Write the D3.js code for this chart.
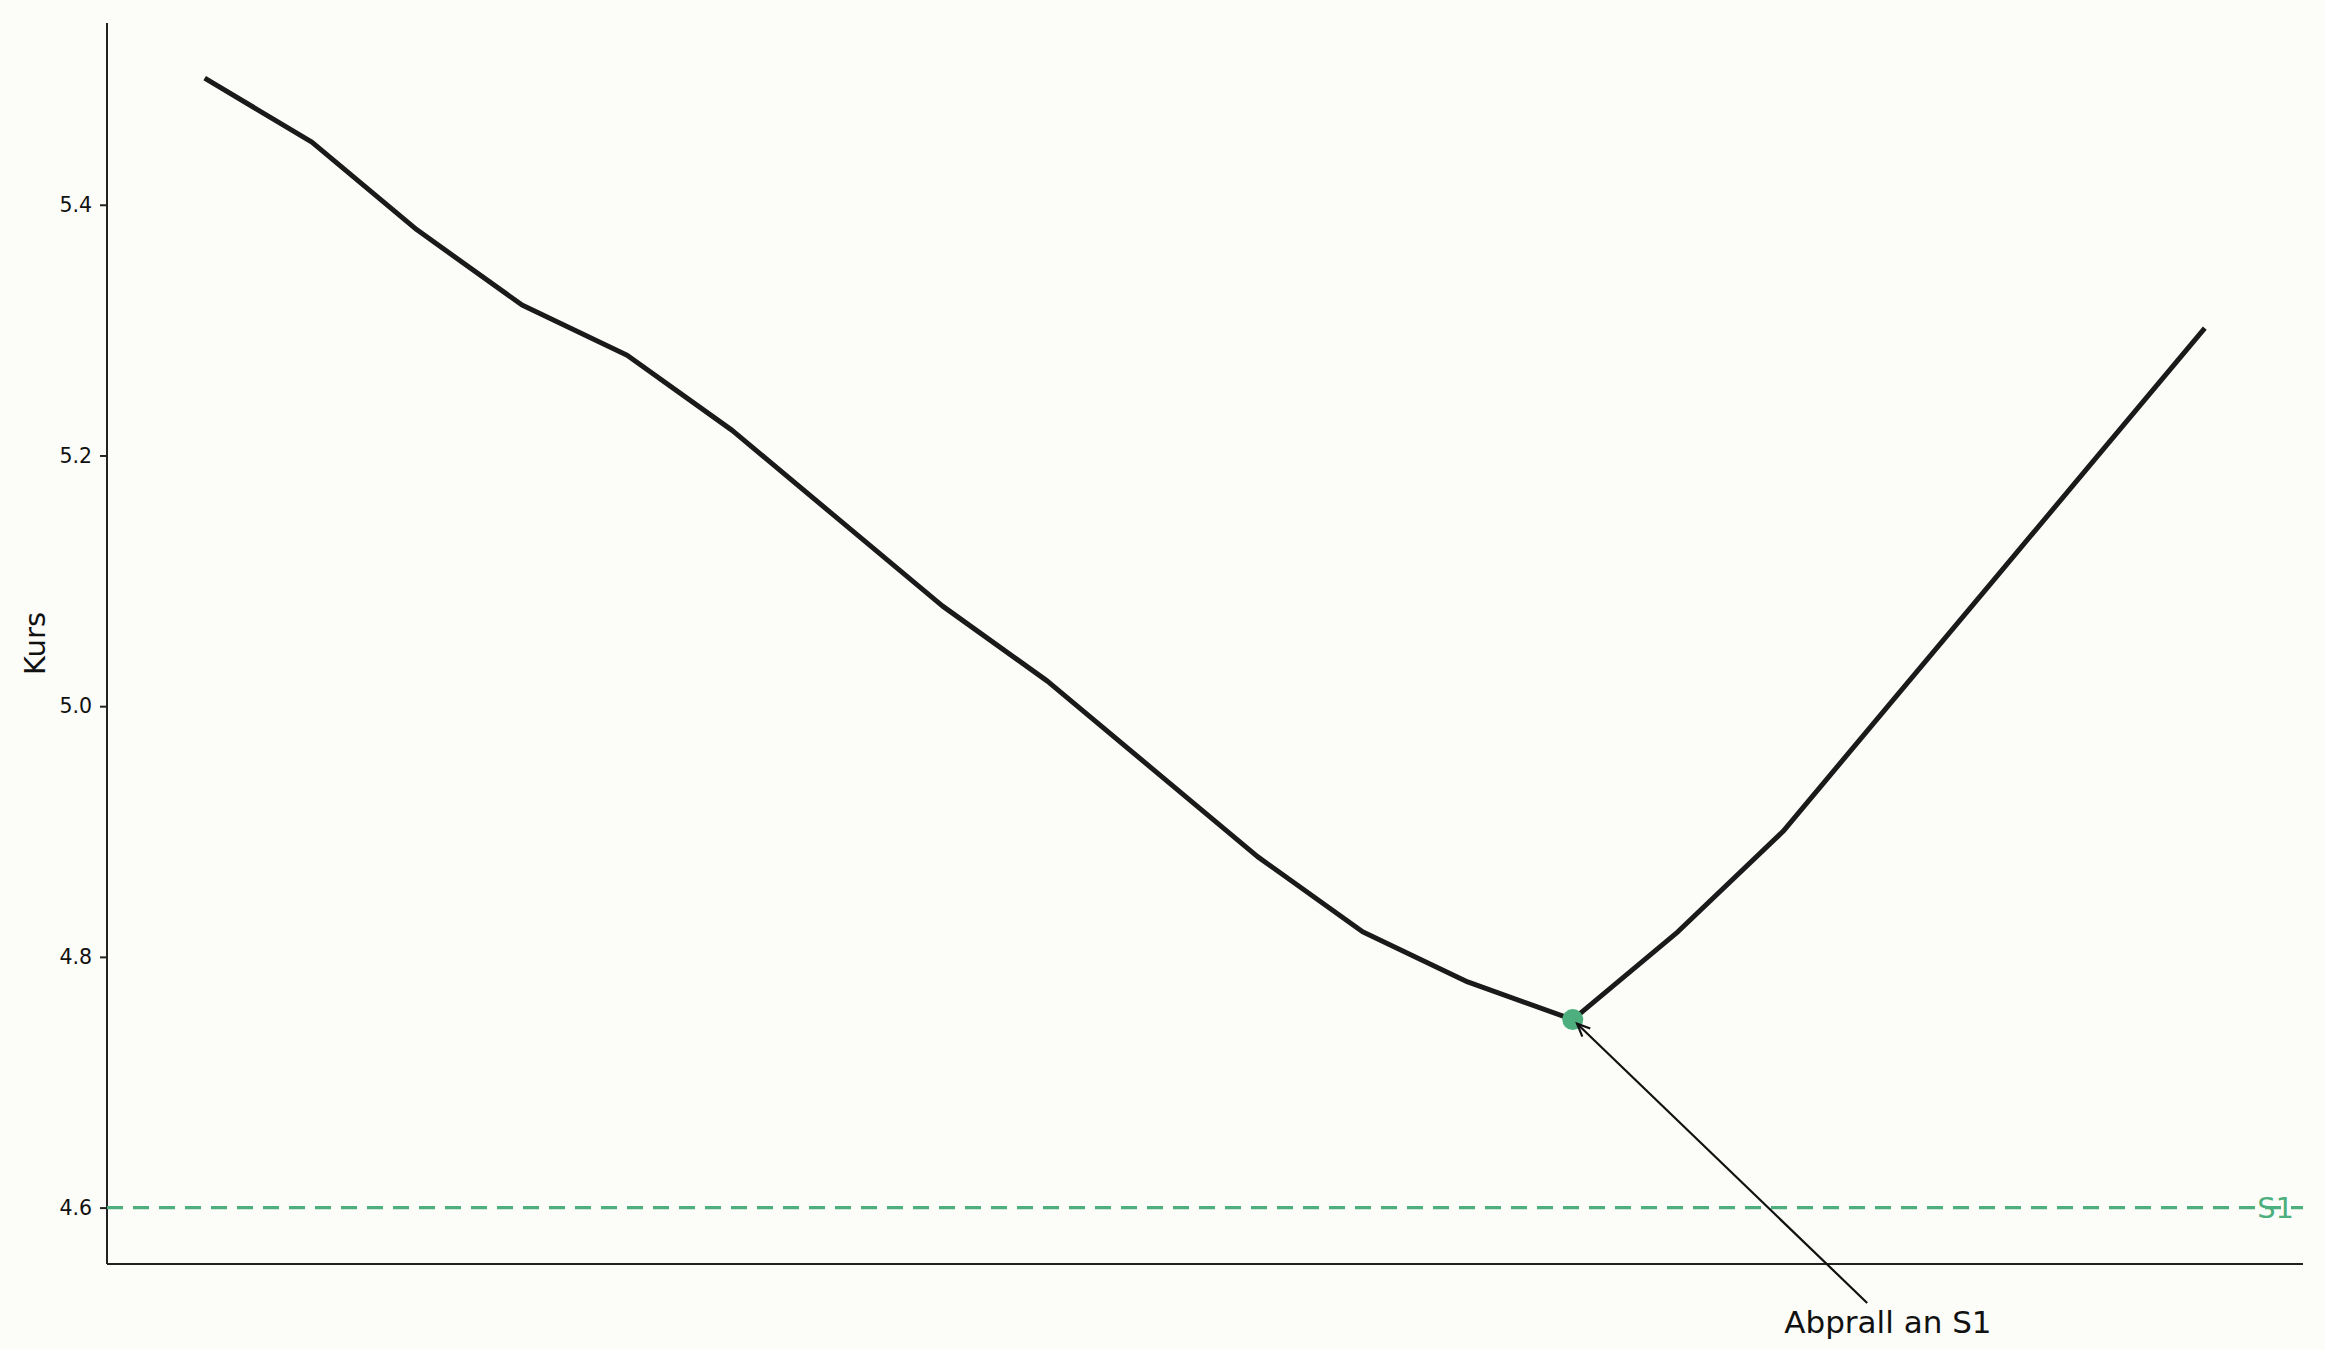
<!DOCTYPE html>
<html>
<head>
<meta charset="utf-8">
<script src="https://cdn.jsdelivr.net/npm/d3@7"></script>
<style>
  body { margin: 0; background: #fcfcf8; }
  svg { display: block; font-family: "DejaVu Sans", sans-serif; }
</style>
</head>
<body>
<script>
// price series, one value per session (x axis carries no labels)
const days = d3.range(20);
const kurs = [5.50, 5.45, 5.38, 5.32, 5.28, 5.22, 5.15, 5.08, 5.02, 4.95,
              4.88, 4.82, 4.78, 4.75, 4.82, 4.90, 5.00, 5.10, 5.20, 5.30];
const yTicks = [4.6, 4.8, 5.0, 5.2, 5.4];
const support = 4.6;        // S1
const supportLabel = 'S1';
const bounceIdx = 13;       // touch point near S1
const noteText = 'Abprall an S1';
const notePos = [16, 4.5];  // where the annotation text sits

const w = 2325, h = 1350;
const m = {left: 107, right: 22, top: 23, bottom: 86};

const svg = d3.select('body').append('svg')
    .attr('width', w)
    .attr('height', h);

// matplotlib-ish 5% padding on both axes
const xPad = (days.length - 1) * 0.05;
const x = d3.scaleLinear()
    .domain([days[0] - xPad, days[days.length - 1] + xPad])
    .range([m.left, w - m.right]);

const lo = Math.min(d3.min(kurs), support), hi = Math.max(d3.max(kurs), support);
const yPad = (hi - lo) * 0.05;
const y = d3.scaleLinear()
    .domain([lo - yPad, hi + yPad])
    .range([h - m.bottom, m.top]);

// axes: left with ticks, bottom spine only
const yAxis = svg.append('g')
    .attr('transform', `translate(${m.left},0)`)
    .call(d3.axisLeft(y).tickValues(yTicks).tickFormat(d3.format('.1f')).tickSize(7).tickPadding(8));
yAxis.select('.domain').remove();
yAxis.selectAll('.tick line').attr('stroke', '#222').attr('stroke-width', 2);
yAxis.selectAll('.tick text').attr('font-size', 20.5).attr('fill', '#111')
    .attr('font-family', '"DejaVu Sans", sans-serif');

svg.append('line')
    .attr('x1', m.left).attr('x2', m.left)
    .attr('y1', m.top).attr('y2', h - m.bottom)
    .attr('stroke', '#222').attr('stroke-width', 2);
svg.append('line')
    .attr('x1', m.left).attr('x2', w - m.right)
    .attr('y1', h - m.bottom).attr('y2', h - m.bottom)
    .attr('stroke', '#222').attr('stroke-width', 2);

svg.append('text')
    .attr('transform', `translate(37,${(m.top + h - m.bottom) / 2}) rotate(-90)`)
    .attr('text-anchor', 'middle')
    .attr('dominant-baseline', 'middle')
    .attr('font-size', 29)
    .attr('fill', '#111')
    .text('Kurs');

// support line
const green = '#4caf7d';
svg.append('line')
    .attr('x1', m.left).attr('x2', w - m.right)
    .attr('y1', y(support)).attr('y2', y(support))
    .attr('stroke', green).attr('stroke-width', 3.2)
    .attr('stroke-dasharray', '16,10');
svg.append('text')
    .attr('x', w - m.right - 9)
    .attr('y', y(support))
    .attr('text-anchor', 'end')
    .attr('dominant-baseline', 'central')
    .attr('font-size', 29)
    .attr('fill', green)
    .text(supportLabel);

// price line
const line = d3.line()
    .x((d, i) => x(days[i]))
    .y(d => y(d));
svg.append('path')
    .datum(kurs)
    .attr('d', line)
    .attr('fill', 'none')
    .attr('stroke', '#1a1a1a')
    .attr('stroke-width', 5)
    .attr('stroke-linejoin', 'round')
    .attr('stroke-linecap', 'square');

// bounce marker
svg.append('circle')
    .attr('cx', x(days[bounceIdx]))
    .attr('cy', y(kurs[bounceIdx]))
    .attr('r', 10.5)
    .attr('fill', green);

// annotation text + arrow
const tx = x(notePos[0]), ty = y(notePos[1]);
svg.append('text')
    .attr('x', tx).attr('y', ty)
    .attr('text-anchor', 'middle')
    .attr('font-size', 31)
    .attr('fill', '#111')
    .text(noteText);

const px = x(days[bounceIdx]), py = y(kurs[bounceIdx]);
const cx0 = tx, cy0 = ty - 10;         // rough centre of the text box
const boxTop = ty - 30;                 // arrow leaves just above the text
const t = (cy0 - boxTop) / (cy0 - py);
const sx = cx0 + (px - cx0) * t, sy = boxTop;
const dx = sx - px, dy = sy - py, len = Math.hypot(dx, dy);
const ux = dx / len, uy = dy / len;
const tipX = px + ux * 6, tipY = py + uy * 6;

svg.append('line')
    .attr('x1', sx).attr('y1', sy)
    .attr('x2', tipX).attr('y2', tipY)
    .attr('stroke', '#111').attr('stroke-width', 2.2);

const hl = 14, ang = 0.42;
const rot = (a) => [ux * Math.cos(a) - uy * Math.sin(a), ux * Math.sin(a) + uy * Math.cos(a)];
const [ax1, ay1] = rot(ang), [ax2, ay2] = rot(-ang);
svg.append('path')
    .attr('d', `M${tipX + ax1 * hl},${tipY + ay1 * hl}L${tipX},${tipY}L${tipX + ax2 * hl},${tipY + ay2 * hl}`)
    .attr('fill', 'none')
    .attr('stroke', '#111')
    .attr('stroke-width', 2.2);
</script>
</body>
</html>
